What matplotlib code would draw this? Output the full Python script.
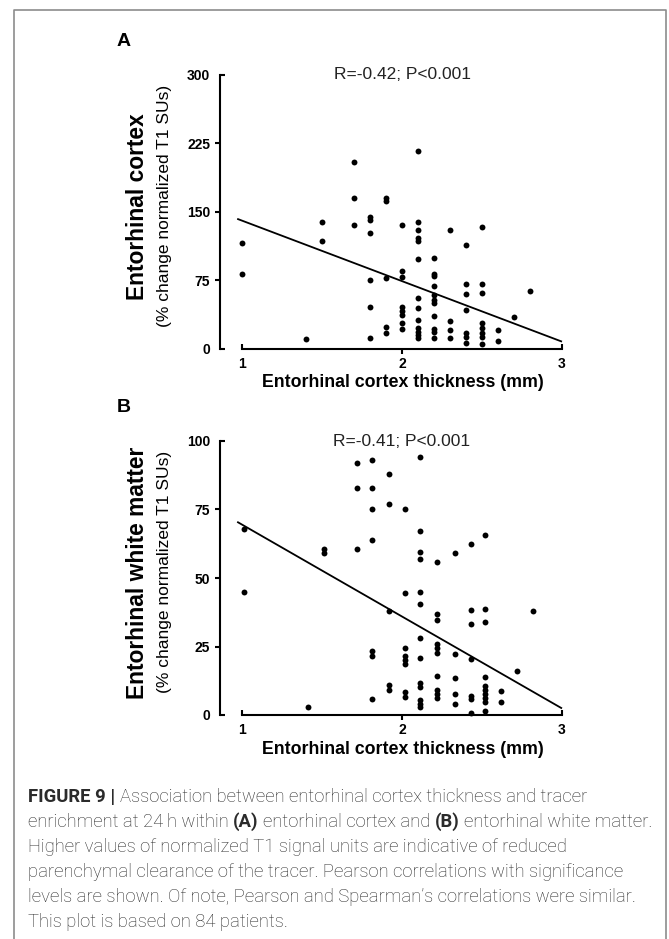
import matplotlib
matplotlib.use("Agg")
import matplotlib.pyplot as plt
from matplotlib.lines import Line2D

W, H = 669, 939          # output size in pixels

# ---------------------------------------------------------------------------
# Data
# ---------------------------------------------------------------------------
# Panel A: entorhinal cortex, % change normalized T1 SUs, grouped by thickness
a_thickness = [1.0, 1.4, 1.5, 1.7, 1.8, 1.9, 2.0, 2.1, 2.2, 2.3, 2.4, 2.5, 2.6, 2.7, 2.8]
a_change = [
    [116, 82],
    [10],
    [138, 118],
    [204, 165, 135],
    [144, 141, 126, 75, 45, 11],
    [165, 162, 77, 24, 17],
    [135, 85, 78, 45, 41, 37, 28, 21],
    [216, 139, 130, 121, 118, 98, 55, 44, 31, 22, 18, 15, 11],
    [99, 82, 79, 68, 59, 53, 50, 36, 21, 18, 11],
    [130, 30, 20, 11],
    [113, 71, 60, 42, 17, 13, 6],
    [133, 71, 61, 28, 22, 17, 13, 5],
    [20, 8],
    [34],
    [63],
]
a_fit_x = [0.97, 3.0]
a_fit_y = [142, 7.5]

# Panel B: entorhinal white matter
b_thickness = [1.01, 1.41, 1.51, 1.72, 1.81, 1.92, 2.02, 2.11, 2.22, 2.33, 2.43, 2.52, 2.62, 2.72, 2.82]
b_change = [
    [68, 45],
    [3],
    [60.5, 59],
    [92, 83, 60.5],
    [93, 83, 75, 64, 23.5, 21.5, 6],
    [88, 77, 38, 11, 9],
    [75, 44.5, 24.3, 21.7, 20.2, 18.5, 8.5, 6.7],
    [94, 67, 59.6, 56.8, 45, 40.5, 28, 20.7, 11.8, 10.1, 5.5, 4, 3],
    [55.7, 36.7, 34.7, 26, 24.5, 22.7, 14.2, 9.1, 7.7, 6.1],
    [59, 22.2, 13.4, 7.7, 4],
    [62.3, 38.3, 33.3, 20.5, 6.9, 5.9, 0.6],
    [65.7, 38.6, 34.1, 13.8, 10.6, 9.1, 7.7, 6.1, 4.9, 1.5],
    [8.8, 4.6],
    [16],
    [38],
]
b_fit_x = [0.97, 3.0]
b_fit_y = [70.5, 2.4]

a_yticks = [0, 75, 150, 225, 300]
b_yticks = [0, 25, 50, 75, 100]
xticks = [1, 2, 3]

stats_a = "R=-0.42; P<0.001"
stats_b = "R=-0.41; P<0.001"
xlabel = "Entorhinal cortex thickness (mm)"
sublabel = "(% change normalized T1 SUs)"

caption = [
    [("FIGURE 9 |", "bold"), ("Association between entorhinal cortex thickness and tracer", "light")],
    [("enrichment at 24\u2009h within", "light"), ("(A)", "bold"), ("entorhinal cortex and", "light"),
     ("(B)", "bold"), ("entorhinal white matter.", "light")],
    [("Higher values of normalized T1 signal units are indicative of reduced", "light")],
    [("parenchymal clearance of the tracer. Pearson correlations with significance", "light")],
    [("levels are shown. Of note, Pearson and Spearman\u2019s correlations were similar.", "light")],
    [("This plot is based on 84 patients.", "light")],
]

plt.rcParams['font.family'] = ['Liberation Sans', 'DejaVu Sans']


def fx(px):            # pixel x -> figure fraction
    return px / W


def fy(py):            # pixel y (from top) -> figure fraction
    return 1 - py / H


def flatten(xs, groups):
    px, py = [], []
    for x, vals in zip(xs, groups):
        for v in vals:
            px.append(x)
            py.append(v)
    return px, py


def draw_panel(fig, top_px, ymax, yticks, xs, groups, fit_x, fit_y, stats, letter, title):
    # axis box: y-axis spine at x=220px, x=1 -> 242px, x=3 -> 562px
    bottom_px = top_px + 274
    ax = fig.add_axes([fx(220), fy(bottom_px), fx(350), 274 / H])
    ax.set_xlim(1 - 22 / 160, 1 - 22 / 160 + 350 / 160)
    ax.set_ylim(0, ymax)
    ax.patch.set_visible(False)

    px, py = flatten(xs, groups)
    ax.scatter(px, py, s=18, color="black", linewidths=0, clip_on=False, zorder=3)
    ax.plot(fit_x, fit_y, color="black", lw=1.3, solid_capstyle="butt", clip_on=False)

    for side in ["top", "right"]:
        ax.spines[side].set_visible(False)
    ax.spines["left"].set_bounds(0, ymax)
    ax.spines["bottom"].set_bounds(1, 3)
    ax.spines["left"].set_linewidth(1.5)
    ax.spines["bottom"].set_linewidth(1.5)

    # end ticks point inward, middle ticks outward
    ax.set_yticks(yticks[1:-1])
    ax.set_yticklabels([str(t) for t in yticks[1:-1]])
    ax.set_yticks([yticks[0], yticks[-1]], minor=True)
    ax.set_yticklabels([str(yticks[0]), str(yticks[-1])], minor=True)
    ax.set_xticks([xticks[1]])
    ax.set_xticklabels([str(xticks[1])])
    ax.set_xticks([xticks[0], xticks[-1]], minor=True)
    ax.set_xticklabels([str(xticks[0]), str(xticks[-1])], minor=True)

    ax.tick_params(which="major", direction="out", length=3.6, width=1.5, labelsize=10)
    ax.tick_params(which="minor", direction="in", length=3.6, width=1.5, labelsize=10)
    ax.tick_params(axis="y", which="major", pad=3.6)
    ax.tick_params(axis="y", which="minor", pad=7.2)
    ax.tick_params(axis="x", which="major", pad=2.4)
    ax.tick_params(axis="x", which="minor", pad=6.0)
    for lab in ax.get_xticklabels(which="both") + ax.get_yticklabels(which="both"):
        lab.set_fontweight("bold")

    ax.text(2.0, ymax, stats, ha="center", va="center", fontsize=12.5, color="#222222")

    fig.text(fx(124), fy(top_px - 33), letter, ha="center", va="center",
             fontsize=14, fontweight="bold")
    fig.text(fx(137), fy(top_px + 132), title, rotation=90, ha="center", va="center",
             fontsize=16.4, fontweight="bold")
    fig.text(fx(165), fy(top_px + 131), sublabel, rotation=90, ha="center", va="center",
             fontsize=12.5)
    fig.text(fx(403), fy(bottom_px + 34), xlabel, ha="center", va="center",
             fontsize=12.8, fontweight="bold")
    return ax


def draw_caption(fig):
    renderer = fig.canvas.get_renderer()
    family = ["Roboto", "DejaVu Sans"]

    def width(s, weight, size):
        t = fig.text(0, 0, s, fontsize=size, fontweight=weight, family=family)
        w = t.get_window_extent(renderer).width
        t.remove()
        return w

    def line_width(parts, size):
        sp = width("a a", "light", size) - width("aa", "light", size)
        return sum(width(s, wgt, size) for s, wgt in parts) + sp * (len(parts) - 1)

    # fit line two to the column width (28px -> 652px)
    size = 12.0
    size = size * 624 / line_width(caption[1], size)

    sp = width("a a", "light", size) - width("aa", "light", size)
    for i, parts in enumerate(caption):
        x = 28
        for s, wgt in parts:
            t = fig.text(fx(x), fy(797 + 25 * i), s, fontsize=size, fontweight=wgt,
                         family=family, va="center", ha="left", color="#2b2b2b")
            x += t.get_window_extent(renderer).width + sp


fig = plt.figure(figsize=(W / 100, H / 100), dpi=100)

draw_panel(fig, 74.5, 300, a_yticks, a_thickness, a_change, a_fit_x, a_fit_y,
           stats_a, "A", "Entorhinal cortex")
draw_panel(fig, 441, 100, b_yticks, b_thickness, b_change, b_fit_x, b_fit_y,
           stats_b, "B", "Entorhinal white matter")
draw_caption(fig)

# grey frame around the figure (open at the bottom)
frame = dict(color="#8c8c8c", lw=1.2, transform=fig.transFigure)
fig.add_artist(Line2D([fx(14), fx(14), fx(666), fx(666)], [0, fy(10), fy(10), 0], **frame))

fig.savefig("out.png", dpi=100)
